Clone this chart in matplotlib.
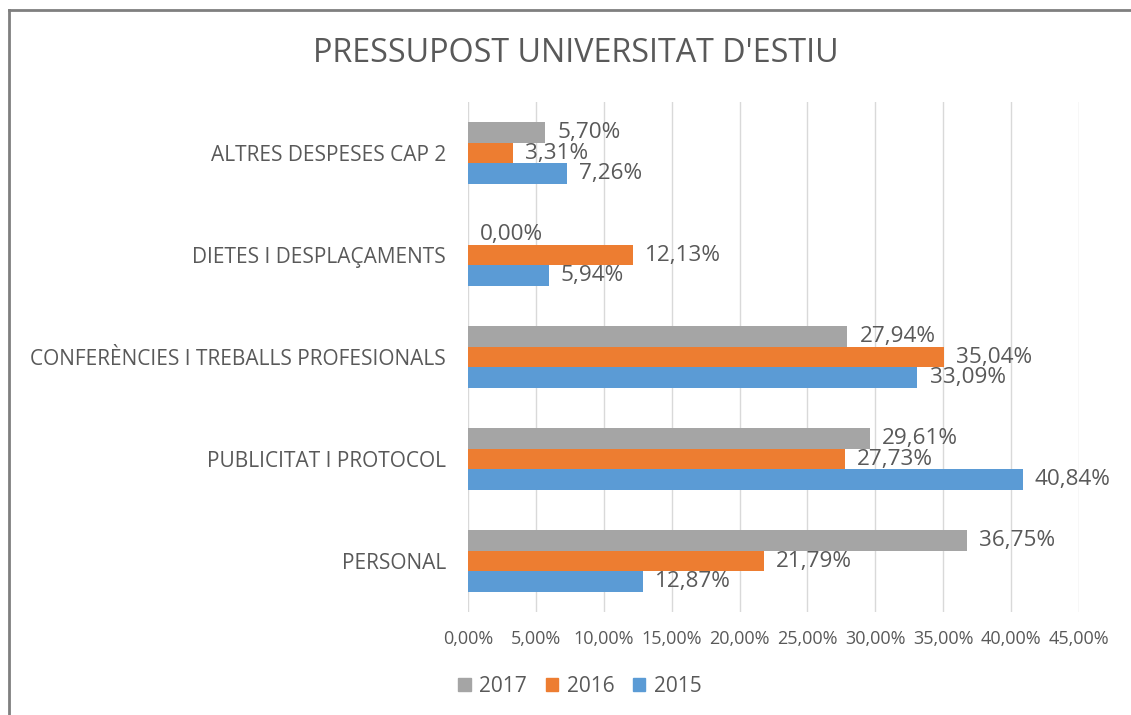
import matplotlib
matplotlib.use("Agg")
import matplotlib.pyplot as plt
from matplotlib.lines import Line2D
from matplotlib.patches import Patch
import numpy as np

categories = ["PERSONAL", "PUBLICITAT I PROTOCOL", "CONFERÈNCIES I TREBALLS PROFESIONALS",
              "DIETES I DESPLAÇAMENTS", "ALTRES DESPESES CAP 2"]
v2017 = [36.75, 29.61, 27.94, 0.00, 5.70]
v2016 = [21.79, 27.73, 35.04, 12.13, 3.31]
v2015 = [12.87, 40.84, 33.09, 5.94, 7.26]
years = ["2017", "2016", "2015"]
colors = ["#a5a5a5", "#ed7d31", "#5b9bd5"]
xticks = [0, 5, 10, 15, 20, 25, 30, 35, 40, 45]

plt.rcParams['font.family'] = ['Open Sans', 'DejaVu Sans']
txt = "#595959"

fig = plt.figure(figsize=(11.31, 7.15), dpi=100)
ax = fig.add_axes([468/1131, 1-612/715, (1079-468)/1131, (612-102)/715])

y = np.arange(len(categories))
h = 0.2
series = [v2017, v2016, v2015]
offsets = [h, 0, -h]
for vals, col, off, lab in zip(series, colors, offsets, years):
    bars = ax.barh(y + off, vals, height=h, color=col, label=lab, zorder=3)
    for b, v in zip(bars, vals):
        ax.text(v + 0.9, b.get_y() + b.get_height()/2, f"{v:.2f}%".replace(".", ","),
                va="center", ha="left", fontsize=16.2, color=txt, zorder=4)

ax.set_xlim(0, 45)
ax.set_ylim(-0.5, len(categories) - 0.5)
ax.set_xticks(xticks)
ax.set_xticklabels([f"{t:.2f}%".replace(".", ",") for t in xticks], fontsize=13, color=txt)
ax.set_yticks(y)
ax.set_yticklabels(categories, fontsize=15, color=txt)
ax.tick_params(axis="y", length=0, pad=16)
ax.tick_params(axis="x", length=0, pad=13)
ax.grid(axis="x", color="#d9d9d9", linewidth=1, zorder=0)
for s in ax.spines.values():
    s.set_visible(False)

fig.text(0.5*(313+838)/1131, 1-53/715, "PRESSUPOST UNIVERSITAT D'ESTIU", ha="center", va="center",
         fontsize=23.2, color=txt)

handles = [Patch(color=c) for c in colors]
fig.legend(handles, years, loc="center", bbox_to_anchor=(580/1131, 1-686/715), ncol=3,
           frameon=False, fontsize=15, labelcolor=txt, handlelength=0.6, handleheight=0.6,
           handletextpad=0.4, columnspacing=0.9)

fig.add_artist(Line2D([9/1131, 9/1131], [0, 1-10/715], color="#7f7f7f", linewidth=2))
fig.add_artist(Line2D([9/1131, 1], [1-10/715, 1-10/715], color="#7f7f7f", linewidth=2))

fig.savefig("out.png", dpi=100)
